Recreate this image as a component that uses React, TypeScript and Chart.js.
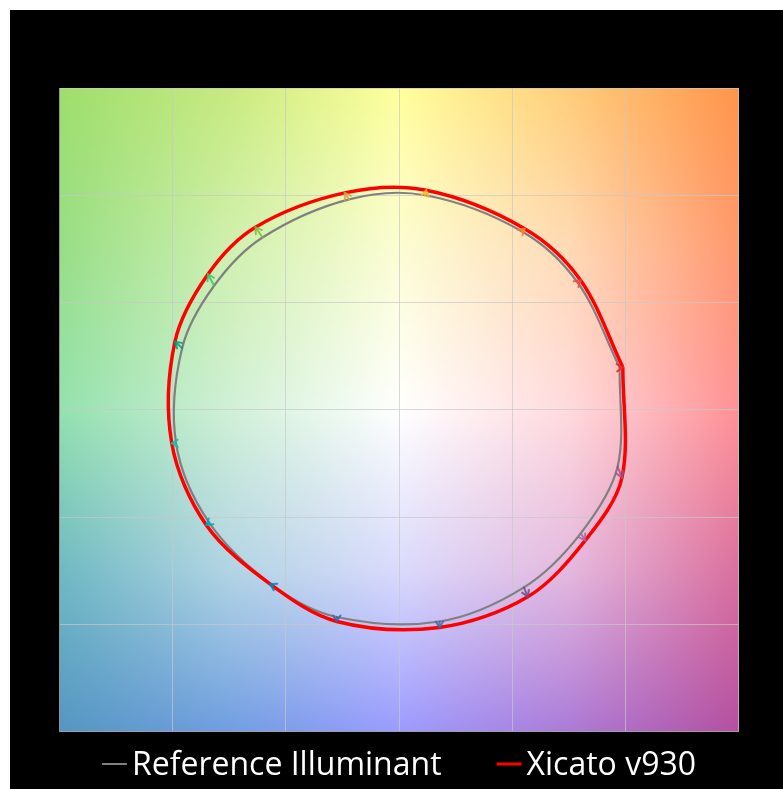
import React, { useEffect, useRef } from 'react';
import { Chart, registerables } from 'chart.js';

Chart.register(...registerables);

// ---- data (normalized a', b' coordinates per hue bin, bins 1..16) ----
const hueBins = [1, 2, 3, 4, 5, 6, 7, 8, 9, 10, 11, 12, 13, 14, 15, 16];
const refX = [0.975, 0.79, 0.542, 0.116, -0.221, -0.603, -0.817, -0.958, -0.985, -0.838, -0.555, -0.275, 0.179, 0.552, 0.803, 0.966];
const refY = [0.197, 0.592, 0.832, 1.0, 0.981, 0.803, 0.578, 0.288, -0.156, -0.527, -0.821, -0.966, -0.987, -0.828, -0.576, -0.265];
const testX = [0.989, 0.803, 0.555, 0.12, -0.24, -0.634, -0.844, -0.99, -1.004, -0.851, -0.569, -0.275, 0.179, 0.569, 0.823, 0.985];
const testY = [0.198, 0.603, 0.844, 1.023, 1.011, 0.851, 0.632, 0.317, -0.156, -0.538, -0.813, -0.987, -1.015, -0.872, -0.609, -0.317];
const binColors = ['#e62828', '#e74b4b', '#fb812e', '#ffb529', '#cba946', '#7ebb42', '#41c06d', '#009c7c', '#16bcb0', '#00a4bf', '#0085c3', '#3b62aa', '#4568ae', '#6a4e85', '#9d69a1', '#a74f81'];
const seriesLabels = ['Reference Illuminant', 'Xicato v930'];
const seriesColors = ['#808080', '#ff0000'];
const axisMin = -1.5;
const axisMax = 1.5;
const axisStep = 0.5;

// background colour control grid (top row -> bottom row, left -> right)
const bgRow0 = [[158, 222, 108], [200, 234, 128], [255, 255, 155], [255, 205, 122], [255, 148, 75]];
const bgRow1 = [[152, 222, 135], [208, 240, 175], [252, 253, 212], [255, 218, 182], [255, 152, 110]];
const bgRow2 = [[148, 225, 175], [208, 240, 215], [255, 255, 255], [255, 218, 222], [255, 145, 150]];
const bgRow3 = [[112, 185, 195], [178, 212, 228], [218, 218, 252], [228, 184, 222], [218, 112, 158]];
const bgRow4 = [[85, 150, 195], [112, 158, 225], [155, 155, 255], [172, 122, 215], [180, 80, 160]];

const closed = (xs: number[], ys: number[]) => {
  const pts = xs.map((x, i) => ({ x, y: ys[i] }));
  pts.push({ ...pts[0] });
  return pts;
};

let bgCache: { w: number; h: number; c: HTMLCanvasElement } | null = null;
function buildBg(w: number, h: number) {
  if (bgCache && bgCache.w === w && bgCache.h === h) return bgCache.c;
  const rows = [bgRow0, bgRow1, bgRow2, bgRow3, bgRow4];
  const c = document.createElement('canvas');
  c.width = w;
  c.height = h;
  const ctx = c.getContext('2d')!;
  const img = ctx.createImageData(w, h);
  const n = rows.length - 1;
  const m = rows[0].length - 1;
  for (let j = 0; j < h; j++) {
    const fy = (j / (h - 1)) * n;
    const r0 = Math.min(Math.floor(fy), n - 1);
    const ty = fy - r0;
    for (let i = 0; i < w; i++) {
      const fx = (i / (w - 1)) * m;
      const c0 = Math.min(Math.floor(fx), m - 1);
      const tx = fx - c0;
      const a = rows[r0][c0], b = rows[r0][c0 + 1], cc = rows[r0 + 1][c0], d = rows[r0 + 1][c0 + 1];
      const idx = (j * w + i) * 4;
      for (let k = 0; k < 3; k++) {
        const top = a[k] + (b[k] - a[k]) * tx;
        const bot = cc[k] + (d[k] - cc[k]) * tx;
        img.data[idx + k] = top + (bot - top) * ty;
      }
      img.data[idx + 3] = 255;
    }
  }
  ctx.putImageData(img, 0, 0);
  bgCache = { w, h, c };
  return c;
}

const backgroundPlugin = {
  id: 'cvgBackground',
  beforeDraw(chart: any) {
    const { ctx, chartArea } = chart;
    ctx.save();
    ctx.fillStyle = '#000';
    ctx.fillRect(0, 0, chart.width, chart.height);
    const l = Math.round(chartArea.left), t = Math.round(chartArea.top);
    const w = Math.round(chartArea.right) - l, h = Math.round(chartArea.bottom) - t;
    ctx.drawImage(buildBg(w, h), l, t);
    ctx.restore();
  },
};

const arrowPlugin = {
  id: 'cvgArrows',
  afterDatasetsDraw(chart: any) {
    const { ctx } = chart;
    const xs = chart.scales.x, ys = chart.scales.y;
    ctx.save();
    ctx.lineWidth = 2;
    ctx.lineCap = 'round';
    ctx.globalAlpha = 0.85;
    hueBins.forEach((_, i) => {
      const x0 = xs.getPixelForValue(refX[i]);
      const y0 = ys.getPixelForValue(refY[i]);
      const x1 = xs.getPixelForValue(testX[i]);
      const y1 = ys.getPixelForValue(testY[i]);
      const ang = Math.atan2(y1 - y0, x1 - x0);
      const hl = 7;
      ctx.strokeStyle = binColors[i];
      ctx.beginPath();
      ctx.moveTo(x0, y0);
      ctx.lineTo(x1, y1);
      ctx.moveTo(x1 - hl * Math.cos(ang - 0.55), y1 - hl * Math.sin(ang - 0.55));
      ctx.lineTo(x1, y1);
      ctx.lineTo(x1 - hl * Math.cos(ang + 0.55), y1 - hl * Math.sin(ang + 0.55));
      ctx.stroke();
    });
    ctx.restore();
  },
};

const legendPlugin = {
  id: 'cvgLegend',
  afterDraw(chart: any) {
    const { ctx, chartArea } = chart;
    ctx.save();
    ctx.font = '32px "Open Sans"';
    const lineLen = 25, gap = 5, itemGap = 55;
    const widths = seriesLabels.map((t) => lineLen + gap + ctx.measureText(t).width);
    const total = widths.reduce((a, b) => a + b, 0) + itemGap * (widths.length - 1);
    let x = (chartArea.left + chartArea.right) / 2 - total / 2;
    const lineY = chartArea.bottom + 32.5;
    const baseY = chartArea.bottom + 43;
    seriesLabels.forEach((t, i) => {
      ctx.strokeStyle = seriesColors[i];
      ctx.lineWidth = i === 0 ? 2 : 3;
      ctx.beginPath();
      ctx.moveTo(x, lineY);
      ctx.lineTo(x + lineLen, lineY);
      ctx.stroke();
      ctx.fillStyle = '#ffffff';
      ctx.textBaseline = 'alphabetic';
      ctx.fillText(t, x + lineLen + gap, baseY);
      x += widths[i] + itemGap;
    });
    ctx.restore();
  },
};

export default function App() {
  const ref = useRef<HTMLCanvasElement>(null);
  useEffect(() => {
    if (!ref.current) return;
    const gridColor = 'rgba(200,200,200,0.7)';
    const axis = {
      type: 'linear' as const,
      min: axisMin,
      max: axisMax,
      ticks: { display: false, stepSize: axisStep },
      grid: { color: gridColor, lineWidth: 1, drawTicks: false },
      border: { display: true, color: 'rgba(150,150,150,0.7)' },
    };
    const chart = new Chart(ref.current, {
      type: 'scatter',
      data: {
        datasets: [
          {
            label: seriesLabels[1],
            data: closed(testX, testY),
            showLine: true,
            borderColor: seriesColors[1],
            borderWidth: 3.5,
            pointRadius: 0,
            tension: 0.33,
            order: 0,
          },
          {
            label: seriesLabels[0],
            data: closed(refX, refY),
            showLine: true,
            borderColor: seriesColors[0],
            borderWidth: 2.2,
            pointRadius: 0,
            tension: 0.33,
            order: 1,
          },
        ],
      },
      options: {
        animation: false,
        responsive: false,
        devicePixelRatio: 1,
        layout: { padding: { left: 49.5, right: 44.5, top: 78, bottom: 57.5 } },
        plugins: { legend: { display: false }, tooltip: { enabled: false } },
        scales: { x: axis, y: axis },
      },
      plugins: [backgroundPlugin, arrowPlugin, legendPlugin],
    });
    return () => chart.destroy();
  }, []);
  return (
    <div style={{ position: 'absolute', left: 10, top: 10, width: 773, height: 779, background: '#000' }}>
      <canvas ref={ref} width={773} height={779} style={{ display: 'block' }} />
    </div>
  );
}
